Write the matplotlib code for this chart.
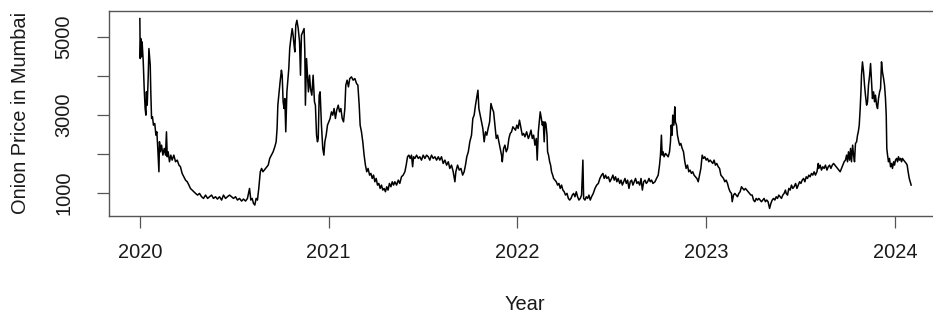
import numpy as np
import matplotlib
matplotlib.use("Agg")
from matplotlib import pyplot as plt

# Onion price in Mumbai (decimal year, price)
year_2020 = [2020.000, 2020.002, 2020.005, 2020.009, 2020.012, 2020.018, 2020.023, 2020.028, 2020.032, 2020.035,
             2020.039, 2020.044, 2020.048, 2020.051, 2020.055, 2020.058, 2020.062, 2020.067, 2020.072, 2020.079,
             2020.085, 2020.090, 2020.095, 2020.101, 2020.104, 2020.109, 2020.115, 2020.122, 2020.129, 2020.136,
             2020.141, 2020.145, 2020.150, 2020.157, 2020.164, 2020.171, 2020.180, 2020.189, 2020.198, 2020.207,
             2020.215, 2020.224, 2020.233, 2020.242, 2020.251, 2020.260, 2020.268, 2020.277, 2020.286, 2020.295,
             2020.306, 2020.316, 2020.327, 2020.337, 2020.348, 2020.359, 2020.369, 2020.380, 2020.390, 2020.401,
             2020.411, 2020.422, 2020.433, 2020.443, 2020.454, 2020.464, 2020.475, 2020.486, 2020.496, 2020.507,
             2020.517, 2020.528, 2020.539, 2020.549, 2020.560, 2020.570, 2020.581, 2020.588, 2020.595, 2020.602,
             2020.609, 2020.616, 2020.623, 2020.630, 2020.638, 2020.645, 2020.652, 2020.659, 2020.666, 2020.680,
             2020.688, 2020.697, 2020.706, 2020.715, 2020.722, 2020.727, 2020.731, 2020.736, 2020.743, 2020.750,
             2020.754, 2020.759, 2020.764, 2020.768, 2020.773, 2020.779, 2020.786, 2020.789, 2020.794, 2020.800,
             2020.807, 2020.812, 2020.817, 2020.821, 2020.826, 2020.832, 2020.839, 2020.846, 2020.851, 2020.856,
             2020.863, 2020.870, 2020.874, 2020.877, 2020.883, 2020.888, 2020.893, 2020.899, 2020.904, 2020.911,
             2020.918, 2020.925, 2020.930, 2020.936, 2020.941, 2020.945, 2020.950, 2020.955, 2020.962, 2020.969,
             2020.975, 2020.980, 2020.987, 2020.994]
price_2020 = [5480, 4452, 4966, 4495, 4880, 4366, 3680, 3166, 2995, 3595,
              3252, 3937, 4709, 4537, 4280, 3595, 2909, 2950, 2738, 2780,
              2480, 2566, 2138, 1538, 2309, 2052, 2223, 1966, 2138, 1966,
              2566, 1924, 2052, 1795, 1966, 1838, 1966, 1795, 1838, 1709,
              1667, 1495, 1409, 1323, 1281, 1195, 1109, 1067, 1024, 981,
              938, 981, 895, 852, 938, 852, 895, 938, 852, 895,
              835, 895, 810, 938, 852, 895, 938, 895, 852, 895,
              810, 852, 784, 835, 784, 852, 1109, 810, 852, 724,
              681, 852, 810, 1109, 1538, 1624, 1538, 1581, 1624, 1709,
              1881, 1966, 2052, 2181, 2309, 2652, 3252, 3509, 3852, 4152,
              4023, 3338, 3166, 3423, 2566, 3595, 4023, 4194, 4709, 4966,
              5223, 5051, 4794, 4623, 5308, 5437, 5223, 4880, 4023, 5051,
              5137, 5223, 4623, 3252, 4452, 4023, 3595, 4023, 3680, 3509,
              4023, 3338, 3252, 2480, 2309, 2395, 3509, 3595, 2738, 2138,
              1966, 2309, 2480, 2738]

year_2021 = [2021.001, 2021.008, 2021.015, 2021.022, 2021.029, 2021.036, 2021.043, 2021.051, 2021.058, 2021.065,
             2021.072, 2021.079, 2021.086, 2021.091, 2021.098, 2021.105, 2021.112, 2021.121, 2021.130, 2021.139,
             2021.148, 2021.155, 2021.162, 2021.167, 2021.174, 2021.181, 2021.188, 2021.195, 2021.202, 2021.209,
             2021.217, 2021.224, 2021.231, 2021.238, 2021.245, 2021.252, 2021.259, 2021.266, 2021.273, 2021.280,
             2021.287, 2021.294, 2021.301, 2021.308, 2021.315, 2021.322, 2021.330, 2021.337, 2021.344, 2021.351,
             2021.360, 2021.369, 2021.377, 2021.386, 2021.395, 2021.404, 2021.411, 2021.418, 2021.425, 2021.432,
             2021.439, 2021.445, 2021.450, 2021.457, 2021.466, 2021.475, 2021.483, 2021.492, 2021.501, 2021.510,
             2021.519, 2021.528, 2021.536, 2021.545, 2021.554, 2021.563, 2021.572, 2021.581, 2021.589, 2021.598,
             2021.607, 2021.616, 2021.625, 2021.634, 2021.642, 2021.651, 2021.660, 2021.669, 2021.674, 2021.683,
             2021.692, 2021.701, 2021.710, 2021.718, 2021.725, 2021.732, 2021.740, 2021.748, 2021.757, 2021.764,
             2021.771, 2021.778, 2021.785, 2021.791, 2021.796, 2021.803, 2021.810, 2021.817, 2021.824, 2021.831,
             2021.838, 2021.845, 2021.853, 2021.860, 2021.867, 2021.874, 2021.881, 2021.888, 2021.895, 2021.902,
             2021.909, 2021.916, 2021.920, 2021.927, 2021.934, 2021.941, 2021.948, 2021.955, 2021.962, 2021.969,
             2021.976, 2021.983, 2021.990, 2021.997]
price_2021 = [2823, 2909, 3080, 2995, 3166, 2909, 3123, 3252, 3080, 3166,
              2909, 2823, 3166, 3766, 3895, 3723, 3937, 3980, 3895, 3937,
              3809, 3766, 3252, 2738, 2566, 2309, 1966, 1709, 1538, 1624,
              1452, 1495, 1366, 1452, 1281, 1366, 1195, 1238, 1109, 1195,
              1067, 1109, 1024, 1152, 1067, 1238, 1152, 1281, 1195, 1281,
              1195, 1323, 1238, 1409, 1452, 1538, 1709, 1924, 1966, 1881,
              1966, 1667, 1924, 1881, 1966, 1881, 1924, 1838, 1966, 1881,
              1966, 1924, 1838, 1966, 1881, 1924, 1838, 1924, 1838, 1924,
              1752, 1838, 1709, 1795, 1624, 1709, 1538, 1281, 1538, 1709,
              1581, 1624, 1452, 1538, 1709, 1924, 2052, 2309, 2480, 2909,
              2995, 3252, 3466, 3637, 3166, 2995, 2823, 2652, 2309, 2566,
              2480, 2652, 2823, 3295, 3166, 3080, 2738, 2395, 2480, 2309,
              2138, 1966, 1795, 2138, 2223, 2052, 2138, 2395, 2523, 2566,
              2695, 2652, 2609, 2738]

year_2022 = [2022.004, 2022.011, 2022.019, 2022.026, 2022.033, 2022.040, 2022.049, 2022.058, 2022.065, 2022.072,
             2022.079, 2022.086, 2022.093, 2022.100, 2022.105, 2022.111, 2022.116, 2022.121, 2022.127, 2022.132,
             2022.137, 2022.142, 2022.146, 2022.151, 2022.157, 2022.160, 2022.165, 2022.171, 2022.176, 2022.181,
             2022.187, 2022.192, 2022.199, 2022.206, 2022.213, 2022.220, 2022.227, 2022.234, 2022.241, 2022.248,
             2022.255, 2022.263, 2022.270, 2022.277, 2022.284, 2022.291, 2022.298, 2022.305, 2022.312, 2022.319,
             2022.326, 2022.333, 2022.340, 2022.347, 2022.351, 2022.358, 2022.365, 2022.372, 2022.379, 2022.386,
             2022.393, 2022.402, 2022.411, 2022.420, 2022.429, 2022.437, 2022.446, 2022.453, 2022.460, 2022.467,
             2022.474, 2022.482, 2022.490, 2022.499, 2022.506, 2022.513, 2022.520, 2022.527, 2022.534, 2022.542,
             2022.549, 2022.556, 2022.563, 2022.570, 2022.577, 2022.584, 2022.591, 2022.598, 2022.605, 2022.612,
             2022.619, 2022.626, 2022.633, 2022.640, 2022.648, 2022.655, 2022.662, 2022.669, 2022.676, 2022.683,
             2022.690, 2022.697, 2022.704, 2022.711, 2022.718, 2022.729, 2022.737, 2022.746, 2022.753, 2022.758,
             2022.763, 2022.767, 2022.772, 2022.777, 2022.785, 2022.792, 2022.799, 2022.806, 2022.811, 2022.815,
             2022.820, 2022.823, 2022.829, 2022.834, 2022.837, 2022.843, 2022.848, 2022.855, 2022.860, 2022.866,
             2022.873, 2022.880, 2022.887, 2022.894, 2022.901, 2022.908, 2022.915, 2022.922, 2022.929, 2022.936,
             2022.943, 2022.951, 2022.958, 2022.965, 2022.972, 2022.979, 2022.986, 2022.993]
price_2022 = [2652, 2866, 2652, 2480, 2523, 2438, 2566, 2395, 2480, 2609,
              2395, 2480, 2223, 2395, 1838, 2566, 2823, 3080, 2909, 2738,
              2823, 2309, 2823, 2780, 2480, 2052, 1966, 1795, 1709, 1538,
              1452, 1366, 1323, 1281, 1195, 1238, 1109, 1195, 1067, 1024,
              938, 981, 852, 810, 852, 938, 981, 895, 1024, 895,
              810, 852, 938, 1838, 852, 810, 895, 852, 938, 810,
              895, 981, 1109, 1195, 1238, 1366, 1452, 1495, 1366, 1452,
              1366, 1409, 1281, 1366, 1452, 1323, 1409, 1281, 1366, 1238,
              1323, 1195, 1281, 1366, 1238, 1323, 1109, 1281, 1323, 1195,
              1281, 1366, 1238, 1281, 1195, 1366, 1067, 1281, 1323, 1238,
              1281, 1366, 1281, 1323, 1238, 1281, 1366, 1452, 1709, 1966,
              2480, 1966, 2052, 1924, 2009, 1966, 1924, 2052, 2309, 2738,
              2480, 2995, 2738, 3209, 2823, 2738, 2480, 2309, 2223, 2266,
              2138, 2052, 1795, 1624, 1709, 1538, 1581, 1495, 1538, 1452,
              1409, 1366, 1281, 1452, 1624, 1966, 1881, 1924]

year_2023 = [2023.000, 2023.007, 2023.014, 2023.021, 2023.028, 2023.035, 2023.042, 2023.049, 2023.056, 2023.064,
             2023.071, 2023.078, 2023.085, 2023.092, 2023.099, 2023.106, 2023.113, 2023.120, 2023.127, 2023.134,
             2023.138, 2023.145, 2023.152, 2023.159, 2023.166, 2023.173, 2023.180, 2023.187, 2023.194, 2023.201,
             2023.208, 2023.215, 2023.222, 2023.230, 2023.237, 2023.244, 2023.251, 2023.258, 2023.265, 2023.272,
             2023.279, 2023.286, 2023.293, 2023.300, 2023.307, 2023.314, 2023.321, 2023.328, 2023.336, 2023.343,
             2023.350, 2023.357, 2023.364, 2023.371, 2023.378, 2023.385, 2023.392, 2023.399, 2023.406, 2023.413,
             2023.420, 2023.424, 2023.431, 2023.438, 2023.445, 2023.452, 2023.459, 2023.466, 2023.474, 2023.481,
             2023.488, 2023.495, 2023.502, 2023.509, 2023.516, 2023.523, 2023.530, 2023.537, 2023.544, 2023.551,
             2023.558, 2023.565, 2023.572, 2023.579, 2023.587, 2023.594, 2023.597, 2023.604, 2023.611, 2023.618,
             2023.625, 2023.632, 2023.640, 2023.647, 2023.654, 2023.661, 2023.668, 2023.675, 2023.682, 2023.689,
             2023.696, 2023.703, 2023.710, 2023.717, 2023.724, 2023.731, 2023.738, 2023.744, 2023.749, 2023.754,
             2023.760, 2023.765, 2023.770, 2023.776, 2023.781, 2023.786, 2023.791, 2023.797, 2023.802, 2023.806,
             2023.811, 2023.816, 2023.820, 2023.823, 2023.828, 2023.834, 2023.839, 2023.844, 2023.850, 2023.855,
             2023.860, 2023.866, 2023.871, 2023.876, 2023.881, 2023.887, 2023.892, 2023.897, 2023.903, 2023.908,
             2023.913, 2023.919, 2023.924, 2023.929, 2023.934, 2023.940, 2023.945, 2023.950, 2023.954, 2023.957,
             2023.961, 2023.966, 2023.971, 2023.977, 2023.982, 2023.987, 2023.993, 2023.998]
price_2023 = [1838, 1881, 1795, 1838, 1795, 1752, 1838, 1709, 1752, 1667,
              1624, 1452, 1409, 1366, 1281, 1323, 1238, 1109, 1024, 981,
              767, 938, 981, 938, 895, 981, 1024, 1152, 1109, 1067,
              1109, 1067, 1024, 981, 938, 938, 810, 767, 852, 810,
              852, 810, 767, 810, 852, 767, 810, 767, 595, 724,
              810, 852, 810, 895, 852, 938, 895, 852, 938, 981,
              1067, 981, 938, 1109, 1067, 1195, 1109, 1152, 1238, 1109,
              1195, 1281, 1238, 1323, 1366, 1281, 1409, 1366, 1452, 1409,
              1495, 1452, 1538, 1452, 1538, 1752, 1624, 1709, 1581, 1667,
              1624, 1709, 1581, 1667, 1709, 1624, 1709, 1752, 1709, 1667,
              1624, 1581, 1538, 1624, 1709, 1795, 1838, 1966, 1795, 2052,
              1838, 2138, 1795, 2223, 1966, 1795, 2266, 2309, 2480, 2566,
              2738, 3166, 3595, 4023, 4366, 4109, 3766, 3509, 3252, 3338,
              3766, 4023, 4323, 3852, 3423, 3595, 3338, 3509, 3252, 3166,
              3423, 3595, 3680, 4366, 4109, 3937, 3766, 3423, 2995, 2138,
              1966, 1795, 1881, 1667, 1752, 1624, 1795, 1709]

year_2024 = [2024.003, 2024.009, 2024.014, 2024.019, 2024.024, 2024.030, 2024.035, 2024.040, 2024.046, 2024.053,
             2024.060, 2024.065, 2024.070, 2024.076, 2024.081, 2024.086]
price_2024 = [1838, 1881, 1795, 1924, 1838, 1881, 1795, 1881, 1838, 1795,
              1752, 1709, 1538, 1366, 1281, 1195]

years = np.array(year_2020 + year_2021 + year_2022 + year_2023 + year_2024)
prices = np.array(price_2020 + price_2021 + price_2022 + price_2023 + price_2024)

year_ticks = [2020, 2021, 2022, 2023, 2024]
price_ticks = [1000, 2000, 3000, 4000, 5000]
price_labels = ["1000", "", "3000", "", "5000"]

plt.rcParams["font.family"] = ["Liberation Sans", "DejaVu Sans"]
text_col = "#1a1a1a"
frame_col = "#555555"

fig = plt.figure(figsize=(9.33, 3.2), dpi=100)
ax = fig.add_axes([109 / 933, 104 / 320, 833 / 933, 205 / 320])
ax.plot(years, prices, color="black", linewidth=1.1)

# R style 4% padding around the data range
xpad = 0.04 * (years.max() - years.min())
ypad = 0.04 * (prices.max() - prices.min())
ax.set_xlim(years.min() - xpad, years.max() + xpad)
ax.set_ylim(prices.min() - ypad, prices.max() + ypad)

ax.set_xticks(year_ticks)
ax.set_xticklabels([str(y) for y in year_ticks])
ax.set_yticks(price_ticks)
ax.set_yticklabels(price_labels, rotation=90, va="center")

ax.tick_params(axis="both", direction="out", length=8.6, width=0.9, colors=frame_col,
               labelsize=14.4, labelcolor=text_col)
ax.tick_params(axis="x", pad=11)
ax.tick_params(axis="y", pad=17)
for s in ax.spines.values():
    s.set_color(frame_col)
    s.set_linewidth(1.0)

fig.text(525 / 933, 1 - 304 / 320, "Year", ha="center", va="center", fontsize=14.4, color=text_col)
fig.text(21 / 933, 1 - 113 / 320, "Onion Price in Mumbai", ha="center", va="center",
         rotation=90, fontsize=14.4, color=text_col)

fig.savefig("out.png", dpi=100)
